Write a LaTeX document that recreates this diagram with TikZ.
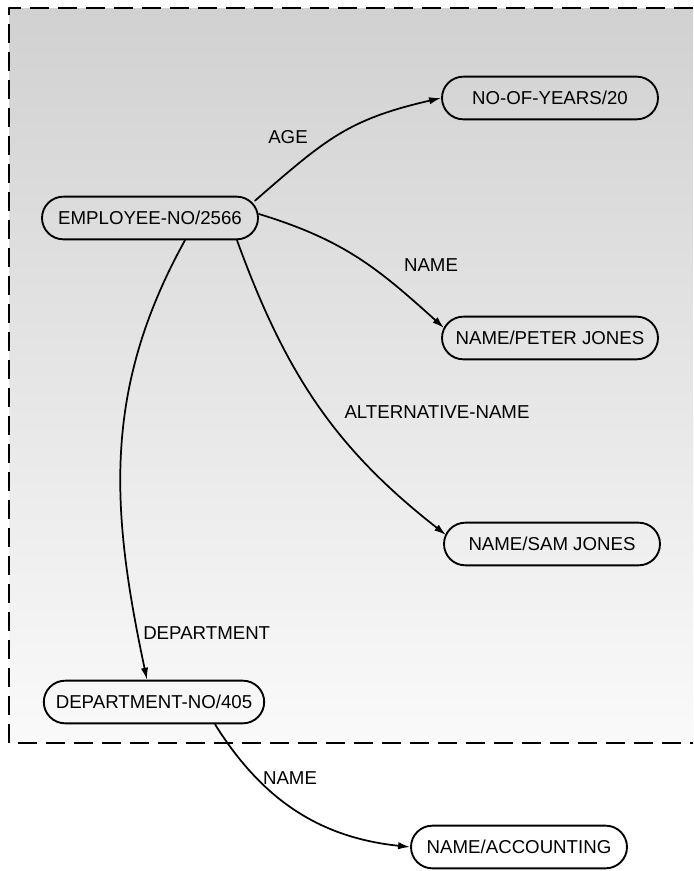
\documentclass[tikz,border=0pt]{standalone}
\usepackage{fontspec}
\setmainfont{Liberation Sans}
\usetikzlibrary{arrows.meta}

\begin{document}
\begin{tikzpicture}[line cap=round,line join=round,x=0.75pt,y=0.75pt,
  font=\fontsize{14}{16}\selectfont,
  box/.style={draw, rectangle, rounded corners=16pt, line width=1.4pt, minimum width=162pt, minimum height=32pt, inner xsep=9pt},
  rel/.style={-{Latex[length=9pt,width=5.5pt]}, line width=1.3pt},
  lbl/.style={inner sep=0pt}]
\useasboundingbox (0,0) rectangle (693,-871);

% Shaded frame
\shade [top color=black!18, bottom color=black!2] (9,-8) rectangle (693,-743);
\draw [line width=1.8pt, line cap=butt, dash pattern=on 14pt off 7pt] (693,-8) -- (9,-8) -- (9,-743) -- (693,-743);

% Nodes
\node [box] (emp) at (150,-218) {EMPLOYEE-NO/2566};
\node [box] (yrs) at (550,-98) {NO-OF-YEARS/20};
\node [box] (peter) at (550,-338) {NAME/PETER JONES};
\node [box] (sam) at (552,-544) {NAME/SAM JONES};
\node [box] (dept) at (154,-702) {DEPARTMENT-NO/405};
\node [box] (acc) at (519,-847) {NAME/ACCOUNTING};

% Links
\draw [rel] ([shift={(-4,-5)}]emp.north east) to [out=41, in=193, looseness=1.15] (yrs.west);
\draw [rel] ([shift={(0,4)}]emp.east) to [out=-17, in=138, looseness=1.05] ([shift={(3,10)}]peter.west);
\draw [rel] ([shift={(87,0)}]emp.south) to [out=-70, in=142] ([shift={(3,9)}]sam.west);
\draw [rel] ([shift={(35,0)}]emp.south) to [out=241, in=102] ([shift={(-7,0)}]dept.north);
\draw [rel] ([shift={(61,0)}]dept.south) to [out=-58, in=174] (acc.west);

% Labels
\node [lbl] (age) at (288,-137) {AGE};
\node [lbl] (nm1) at (431,-265) {NAME};
\node [lbl] (alt) at (437,-412) {ALTERNATIVE-NAME};
\node [lbl, anchor=west] (dep) at (143,-633) {DEPARTMENT};
\node [lbl] (nm2) at (290,-778) {NAME};
\end{tikzpicture}
\end{document}
